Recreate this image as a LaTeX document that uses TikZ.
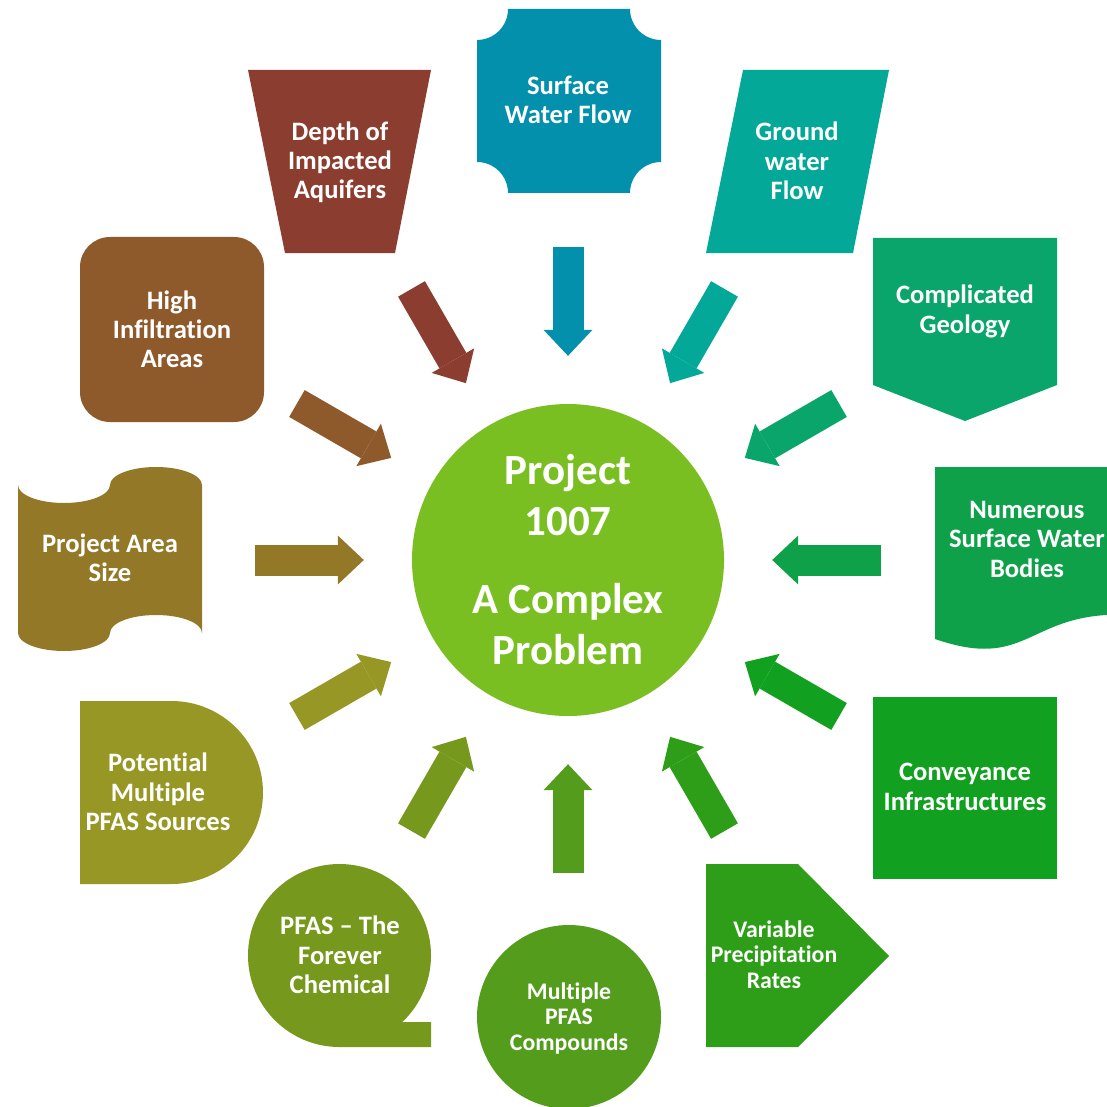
\documentclass[tikz,border=0pt]{standalone}
\usepackage{fontspec}
\setmainfont{Carlito}[Ligatures=NoCommon]
\usepackage{tikz}
\usetikzlibrary{arrows.meta}
\tikzstyle{pixelGrid} = [x = 1pt, y = -1pt]
\definecolor{hubColor}{RGB}{122,191,34}
\definecolor{depthColor}{RGB}{139,62,47}
\definecolor{surfaceColor}{RGB}{2,144,172}
\definecolor{groundColor}{RGB}{4,168,152}
\definecolor{geologyColor}{RGB}{10,165,107}
\definecolor{bodiesColor}{RGB}{15,161,74}
\definecolor{conveyanceColor}{RGB}{18,160,32}
\definecolor{precipColor}{RGB}{46,158,25}
\definecolor{compoundsColor}{RGB}{84,156,27}
\definecolor{foreverColor}{RGB}{118,152,28}
\definecolor{sourcesColor}{RGB}{151,151,37}
\definecolor{areaColor}{RGB}{147,120,40}
\definecolor{infiltrationColor}{RGB}{143,90,43}
\tikzstyle{labelText} = [text=white, align=center, inner sep=0pt, yshift=-2pt, font=\fontsize{26.6}{29.3}\selectfont\bfseries, execute at begin node=\strut, execute at end node=\strut]
\tikzstyle{smallLabelText} = [labelText, font=\fontsize{23.8}{25.5}\selectfont\bfseries]
\tikzstyle{hubStyle} = [circle, fill=hubColor, minimum size=312pt, inner sep=0pt, text=white, align=center, font=\fontsize{43}{51}\selectfont\bfseries]
\tikzstyle{spokeArrow} = [line width=31pt, -{Triangle[length=26pt, width=49pt, line width=0pt]}, shorten >=48pt]
\newcommand{\spoke}[3]{
  \path (hub.center) ++(#2:313) coordinate (#1Tail);
  \draw [spokeArrow, #3] (#1Tail) -- (hub);
}
\newcommand{\boxLabel}[5][labelText]{\node [#1] (#2) at (#3, #4) {#5};}

\begin{document}
\begin{tikzpicture}[pixelGrid]
  \useasboundingbox (0,0) rectangle (1107,1107);
  \clip (0,0) rectangle (1107,1107);

  \node [hubStyle] (hub) at (568,560) {Project\\1007\\[27pt]A Complex\\Problem};

  \fill [depthColor] (248,70) -- (431,70) -- (395,253) -- (285,253) -- cycle;
  \fill [surfaceColor] (508,9) -- (630,9) arc [start angle=180, end angle=90, radius=31]
    -- (661,162) arc [start angle=270, end angle=180, radius=31]
    -- (508,193) arc [start angle=0, end angle=-90, radius=31]
    -- (477,40) arc [start angle=90, end angle=0, radius=31] -- cycle;
  \fill [groundColor] (743,70) -- (889,70) -- (853,253) -- (706,253) -- cycle;
  \fill [geologyColor] (873,238) -- (1057,238) -- (1057,385) -- (965,421) -- (873,385) -- cycle;
  \fill [bodiesColor] (935,467) -- (1119,467) -- (1119,614.6)
    .. controls (1027,614.6) and (1027,670.8) .. (935,639) -- cycle;
  \fill [conveyanceColor] (873,697) rectangle (1057,879);
  \fill [precipColor] (706,864) -- (798,864) -- (889,956) -- (798,1047) -- (706,1047) -- cycle;
  \fill [compoundsColor] (569,1017) circle [radius=92];
  \fill [foreverColor] (339.5,955.5) circle [radius=91.5];
  \fill [foreverColor] (339.5,1047) -- (431,1047) -- (431,1022) -- (402,1022) -- cycle;
  \fill [sourcesColor] (80,701) -- (171.5,701) arc [start angle=-90, end angle=90, radius=91.5]
    -- (80,884) -- cycle;
  \fill [areaColor] (18,485) arc [start angle=180, end angle=0, x radius=46, y radius=18]
    arc [start angle=180, end angle=360, x radius=46, y radius=18]
    -- (202,633) arc [start angle=0, end angle=-180, x radius=46, y radius=18]
    arc [start angle=0, end angle=180, x radius=46, y radius=18] -- cycle;
  \fill [infiltrationColor, rounded corners=30] (80,237) rectangle (264,422);

  \boxLabel{depth}{340}{162.6}{Depth of\\Impacted\\Aquifers}
  \boxLabel{surface}{568}{102.1}{Surface\\Water Flow}
  \boxLabel{ground}{797}{163.1}{Ground\\water\\Flow}
  \boxLabel{geology}{965}{311.6}{Complicated\\Geology}
  \boxLabel{bodies}{1027}{541.6}{Numerous\\Surface Water\\Bodies}
  \boxLabel{conveyance}{965}{789.1}{Conveyance\\Infrastructures}
  \boxLabel[smallLabelText]{precip}{774}{956.4}{Variable\\Precipitation\\Rates}
  \boxLabel[smallLabelText]{compounds}{569}{1018.4}{Multiple\\PFAS\\Compounds}
  \boxLabel{forever}{340}{957.1}{PFAS -- The\\Forever\\Chemical}
  \boxLabel{sources}{158}{794.1}{Potential\\Multiple\\PFAS Sources}
  \boxLabel{area}{110}{560.1}{Project Area\\Size}
  \boxLabel{infiltration}{172}{331.6}{High\\Infiltration\\Areas}

  \spoke{surface}{270}{surfaceColor}
  \spoke{ground}{300}{groundColor}
  \spoke{geology}{330}{geologyColor}
  \spoke{bodies}{0}{bodiesColor}
  \spoke{conveyance}{30}{conveyanceColor}
  \spoke{precip}{60}{precipColor}
  \spoke{compounds}{90}{compoundsColor}
  \spoke{forever}{120}{foreverColor}
  \spoke{sources}{150}{sourcesColor}
  \spoke{area}{180}{areaColor}
  \spoke{infiltration}{210}{infiltrationColor}
  \spoke{depth}{240}{depthColor}
\end{tikzpicture}
\end{document}
